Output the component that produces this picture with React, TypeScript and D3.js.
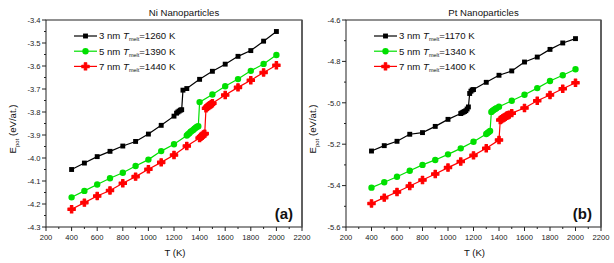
import React from 'react'
import * as d3 from 'd3'

// Ni nanoparticles (left panel)
const niT3 = [400, 500, 600, 700, 800, 900, 1000, 1100, 1200, 1220, 1230, 1240, 1250, 1260, 1270, 1300, 1400, 1500, 1600, 1700, 1800, 1900, 2000]
const niE3 = [-4.05, -4.022, -3.994, -3.971, -3.948, -3.928, -3.896, -3.858, -3.818, -3.805, -3.8, -3.796, -3.792, -3.79, -3.705, -3.698, -3.658, -3.623, -3.592, -3.558, -3.533, -3.492, -3.45]
const niT5 = [400, 500, 600, 700, 800, 900, 1000, 1100, 1200, 1300, 1310, 1320, 1330, 1340, 1350, 1360, 1370, 1380, 1390, 1400, 1500, 1600, 1700, 1800, 1900, 2000]
const niE5 = [-4.171, -4.143, -4.115, -4.088, -4.064, -4.035, -4.007, -3.97, -3.94, -3.902, -3.897, -3.892, -3.886, -3.882, -3.878, -3.873, -3.868, -3.864, -3.862, -3.757, -3.724, -3.688, -3.657, -3.621, -3.591, -3.552]
const niT7 = [400, 500, 600, 700, 800, 900, 1000, 1100, 1200, 1300, 1400, 1410, 1420, 1430, 1440, 1450, 1460, 1470, 1480, 1490, 1500, 1600, 1700, 1800, 1900, 2000]
const niE7 = [-4.223, -4.194, -4.165, -4.141, -4.11, -4.081, -4.049, -4.019, -3.987, -3.948, -3.913, -3.908, -3.903, -3.898, -3.894, -3.784, -3.778, -3.774, -3.77, -3.766, -3.762, -3.726, -3.693, -3.662, -3.628, -3.597]

// Pt nanoparticles (right panel)
const ptT3 = [400, 500, 600, 700, 800, 900, 1000, 1100, 1110, 1120, 1130, 1140, 1150, 1160, 1170, 1180, 1190, 1200, 1300, 1400, 1500, 1600, 1700, 1800, 1900, 2000]
const ptE3 = [-5.233, -5.207, -5.186, -5.152, -5.144, -5.114, -5.08, -5.052, -5.048, -5.045, -5.042, -5.038, -5.03, -5.02, -4.955, -4.944, -4.938, -4.936, -4.901, -4.867, -4.846, -4.803, -4.779, -4.742, -4.711, -4.69]
const ptT5 = [400, 500, 600, 700, 800, 900, 1000, 1100, 1200, 1300, 1310, 1320, 1330, 1340, 1350, 1360, 1370, 1380, 1400, 1500, 1600, 1700, 1800, 1900, 2000]
const ptE5 = [-5.41, -5.384, -5.357, -5.328, -5.3, -5.276, -5.249, -5.22, -5.188, -5.151, -5.146, -5.141, -5.136, -5.044, -5.038, -5.034, -5.03, -5.026, -5.019, -4.99, -4.961, -4.929, -4.895, -4.867, -4.838]
const ptT7 = [400, 500, 600, 700, 800, 900, 1000, 1100, 1200, 1300, 1400, 1410, 1420, 1430, 1440, 1450, 1460, 1470, 1480, 1500, 1600, 1700, 1800, 1900, 2000]
const ptE7 = [-5.486, -5.458, -5.431, -5.402, -5.373, -5.344, -5.313, -5.284, -5.254, -5.22, -5.18, -5.083, -5.079, -5.075, -5.071, -5.067, -5.063, -5.06, -5.057, -5.05, -5.025, -4.99, -4.962, -4.932, -4.903]

const sizes = ['3 nm ', '5 nm ', '7 nm ']
const niMelt = ['=1260 K', '=1390 K', '=1440 K']
const ptMelt = ['=1170 K', '=1340 K', '=1400 K']
const xTicks = [200, 400, 600, 800, 1000, 1200, 1400, 1600, 1800, 2000, 2200]
const niYTicks = [-3.4, -3.5, -3.6, -3.7, -3.8, -3.9, -4.0, -4.1, -4.2, -4.3]
const ptYTicks = [-4.6, -4.8, -5.0, -5.2, -5.4, -5.6]

const colors = ['#000000', '#00e000', '#ff0000']
const symbols = [d3.symbolSquare, d3.symbolCircle, d3.symbolCross]
const symSizes = [24, 32, 30]
const symStroke = [0, 0, 1.1]
const font = '"Liberation Sans", Arial, sans-serif'
const fmt = (v: number) => v.toFixed(1).replace('\u2212', '-')

type Series = { t: number[]; e: number[] }

function Panel(props: {
  left: number; right: number; title: string; letter: string
  series: Series[]; melt: string[]; yDomain: [number, number]; yTicks: number[]; yMinorStep: number
}) {
  const { left, right, title, letter, series, melt, yDomain, yTicks, yMinorStep } = props
  const top = 20, bottom = 227
  const x = d3.scaleLinear().domain([200, 2200]).range([left, right])
  const y = d3.scaleLinear().domain(yDomain).range([bottom, top])
  const line = d3.line<number>()
  const ink = '#222'

  const xMinor = d3.range(300, 2200, 200)
  const yMinor = yTicks.slice(0, -1).map(v => v - yMinorStep)

  const marker = (i: number) => (
    <path d={d3.symbol(symbols[i], symSizes[i])() || ''} fill={colors[i]}
      stroke={symStroke[i] ? colors[i] : 'none'} strokeWidth={symStroke[i]} strokeLinejoin="round" />
  )

  return (
    <g fontFamily={font}>
      <text x={(left + right) / 2 + 10} y={15.5} fontSize={9.6} textAnchor="middle" fill="#111">{title}</text>
      <rect x={left} y={top} width={right - left} height={bottom - top} fill="none" stroke={ink} strokeWidth={1} />
      <line x1={right} x2={right} y1={top} y2={bottom} stroke="#555" strokeWidth={1.6} />
      {xTicks.map(v => (
        <g key={'xt' + v}>
          <line x1={x(v)} x2={x(v)} y1={bottom} y2={bottom + 4} stroke={ink} />
          <text x={x(v)} y={bottom + 13} fontSize={7.6} textAnchor="middle" fill={ink}>{v}</text>
        </g>
      ))}
      {xMinor.map(v => <line key={'xm' + v} x1={x(v)} x2={x(v)} y1={bottom} y2={bottom + 2} stroke={ink} />)}
      {yTicks.map(v => (
        <g key={'yt' + v}>
          <line x1={left - 4} x2={left} y1={y(v)} y2={y(v)} stroke={ink} />
          <text x={left - 5.5} y={y(v) + 2.7} fontSize={7.6} textAnchor="end" fill={ink}>{fmt(v)}</text>
        </g>
      ))}
      {yMinor.map(v => <line key={'ym' + v} x1={left - 2} x2={left} y1={y(v)} y2={y(v)} stroke={ink} />)}
      <text x={(left + right) / 2 + 1} y={255.5} fontSize={9.6} textAnchor="middle" fill="#111">T (K)</text>
      <text transform={`translate(${left - 30},129) rotate(-90)`} fontSize={9.6} textAnchor="middle" fill="#111">
        E<tspan fontSize={6} dy={2.5}>pot</tspan><tspan dy={-2.5}> (eV/at.)</tspan>
      </text>
      {series.map((s, i) => (
        <g key={'s' + i}>
          <path d={line(s.t.map((t, j) => [x(t), y(s.e[j])]) as any) || ''} fill="none" stroke={colors[i]} strokeWidth={1.2} />
          {s.t.map((t, j) => (
            <g key={j} transform={`translate(${x(t)},${y(s.e[j])})`}>{marker(i)}</g>
          ))}
        </g>
      ))}
      {melt.map((m, i) => {
        const ly = 36 + i * 15.2
        const lx = left + 28
        return (
          <g key={'lg' + i}>
            <line x1={lx} x2={lx + 23} y1={ly} y2={ly} stroke={colors[i]} strokeWidth={1.2} />
            <g transform={`translate(${lx + 11.5},${ly})`}>{marker(i)}</g>
            <text x={lx + 25} y={ly + 3.4} fontSize={9.6} fill="#111">
              {sizes[i]}<tspan fontStyle="italic">T</tspan><tspan fontSize={5.5} dy={2}>melt</tspan><tspan dy={-2}>{m}</tspan>
            </text>
          </g>
        )
      })}
      <text x={right - 9} y={218.5} fontSize={15} fontWeight="bold" textAnchor="end" fill="#111">{letter}</text>
    </g>
  )
}

export default function App() {
  return (
    <svg width={614} height={263} style={{ position: 'absolute', left: 0, top: 0, background: '#fff' }}>
      <Panel left={46} right={302} title="Ni Nanoparticles" letter="(a)"
        series={[{ t: niT3, e: niE3 }, { t: niT5, e: niE5 }, { t: niT7, e: niE7 }]}
        melt={niMelt} yDomain={[-4.3, -3.4]} yTicks={niYTicks} yMinorStep={0.05} />
      <Panel left={346} right={601} title="Pt Nanoparticles" letter="(b)"
        series={[{ t: ptT3, e: ptE3 }, { t: ptT5, e: ptE5 }, { t: ptT7, e: ptE7 }]}
        melt={ptMelt} yDomain={[-5.6, -4.6]} yTicks={ptYTicks} yMinorStep={0.1} />
    </svg>
  )
}
